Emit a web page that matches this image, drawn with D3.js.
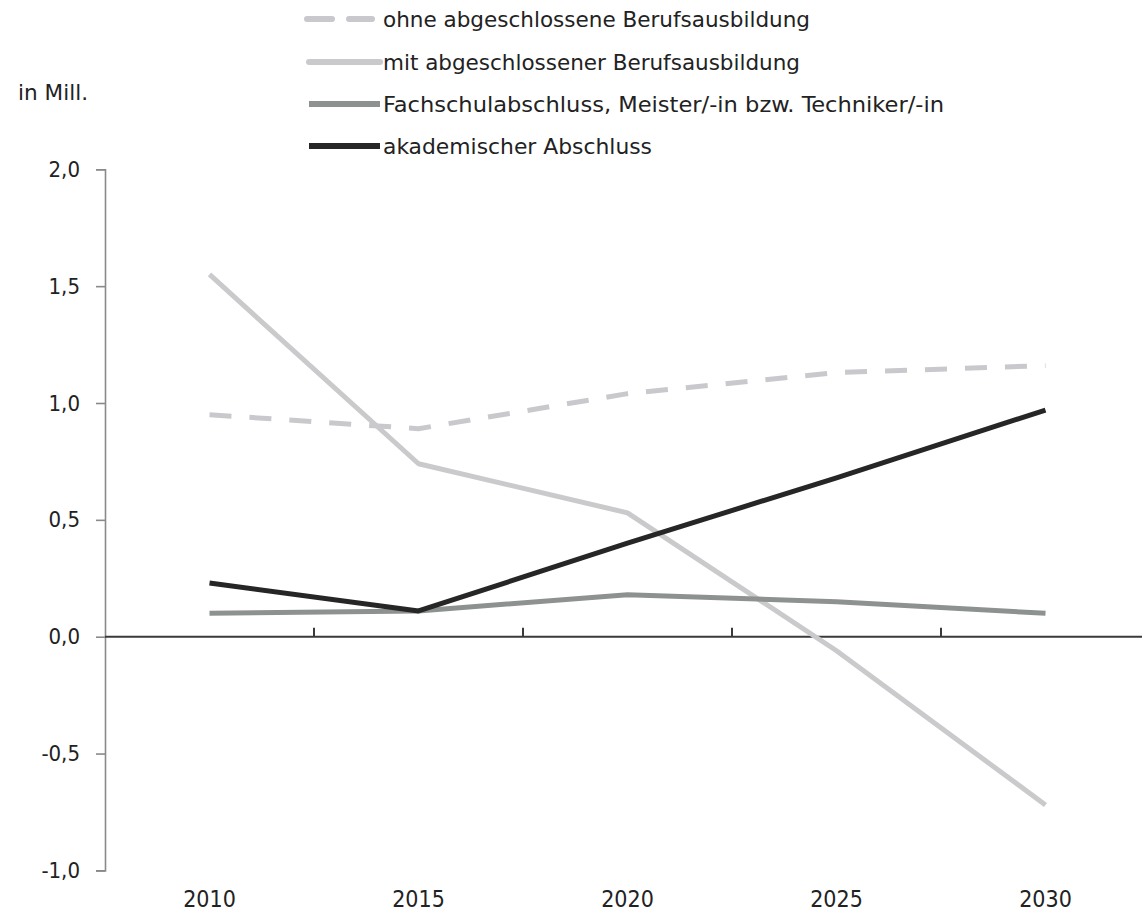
<!DOCTYPE html>
<html><head><meta charset="utf-8">
<script src="https://cdn.jsdelivr.net/npm/d3@7"></script>
<style>
body{margin:0;background:#fff;}
text{font-family:"DejaVu Sans Condensed","DejaVu Sans",sans-serif;font-stretch:condensed;}
</style></head>
<body>
<svg id="c" width="1142" height="916"></svg>
<script>
const years = ["2010","2015","2020","2025","2030"];
const ohne = [0.95, 0.89, 1.04, 1.13, 1.16];
const mit = [1.55, 0.74, 0.53, -0.06, -0.72];
const fach = [0.10, 0.11, 0.18, 0.15, 0.10];
const akad = [0.23, 0.11, 0.40, 0.68, 0.97];
const yTicks = [-1.0, -0.5, 0.0, 0.5, 1.0, 1.5, 2.0];
const seriesNames = ["ohne abgeschlossene Berufsausbildung","mit abgeschlossener Berufsausbildung","Fachschulabschluss, Meister/-in bzw. Techniker/-in","akademischer Abschluss"];

const styles = [
  {color:"#c9c9cd", width:5, dash:"22,18"},
  {color:"#cacacd", width:5, dash:null},
  {color:"#8d9291", width:5, dash:null},
  {color:"#262626", width:5, dash:null}
];
const legendWidths = [427, 417, 561, 269];
const series = [ohne, mit, fach, akad];

const svg = d3.select("#c");
const x = d3.scaleBand().domain(years).range([105, 1150]);
const y = d3.scaleLinear().domain([-1, 2]).range([870.4, 169.3]);

// y axis
const yAxis = d3.axisLeft(y).tickValues(yTicks).tickSize(9).tickPadding(16)
  .tickFormat(d => d3.format(".1f")(d).replace(".", ",").replace("\u2212","-"));
const gy = svg.append("g").attr("transform","translate(105,0)").call(yAxis);
gy.select(".domain").attr("stroke","#8a8a8a").attr("stroke-width",1.6);
gy.selectAll(".tick line").attr("stroke","#8a8a8a").attr("stroke-width",1.6);
gy.selectAll(".tick text").attr("fill","#222").style("font-size","22px")
  .style("font-family","'DejaVu Sans Condensed','DejaVu Sans',sans-serif");

// zero line
svg.append("line").attr("x1",105).attr("x2",1142).attr("y1",y(0)).attr("y2",y(0))
  .attr("stroke","#3a3a3a").attr("stroke-width",2);
// ticks at band boundaries on zero line
const bounds = years.map(d => x(d)).concat([x(years[years.length-1]) + x.bandwidth()]).slice(1);
svg.selectAll(".xt").data(bounds).enter().append("line")
  .attr("x1",d=>d).attr("x2",d=>d).attr("y1",y(0)).attr("y2",y(0)-9)
  .attr("stroke","#3a3a3a").attr("stroke-width",2);

// x labels
const xAxis = d3.axisBottom(x).tickSize(0).tickPadding(0);
const gx = svg.append("g").attr("transform","translate(0,899)").call(xAxis);
gx.select(".domain").remove();
gx.selectAll(".tick text").attr("fill","#222").style("font-size","23px").attr("dy","0.35em")
  .style("font-family","'DejaVu Sans Condensed','DejaVu Sans',sans-serif");

// lines
const line = d3.line().x((d,i)=>x(years[i]) + x.bandwidth()/2).y(d=>y(d));
series.forEach((s,k)=>{
  const p = svg.append("path").datum(s).attr("d",line).attr("fill","none")
    .attr("stroke",styles[k].color).attr("stroke-width",styles[k].width)
    .attr("stroke-linejoin","round").attr("stroke-linecap","butt");
  if(styles[k].dash) p.attr("stroke-dasharray",styles[k].dash);
});

// legend
const legY = [19, 62, 104, 146];
seriesNames.forEach((n,k)=>{
  const g = svg.append("g");
  if(styles[k].dash){
    g.append("line").attr("x1",307).attr("x2",332).attr("y1",legY[k]).attr("y2",legY[k])
      .attr("stroke",styles[k].color).attr("stroke-width",6).attr("stroke-linecap","round");
    g.append("line").attr("x1",349).attr("x2",372).attr("y1",legY[k]).attr("y2",legY[k])
      .attr("stroke",styles[k].color).attr("stroke-width",6).attr("stroke-linecap","round");
  } else {
    g.append("line").attr("x1",309).attr("x2",380).attr("y1",legY[k]).attr("y2",legY[k])
      .attr("stroke",styles[k].color).attr("stroke-width",6).attr("stroke-linecap",k==1?"round":"butt");
  }
  g.append("text").attr("x",383).attr("y",legY[k]).attr("dy","0.35em")
    .attr("fill","#222").style("font-size","22px")
    .attr("textLength",legendWidths[k]).attr("lengthAdjust","spacingAndGlyphs").text(n);
});

svg.append("text").attr("x",18).attr("y",93).attr("dy","0.35em").attr("fill","#222")
  .style("font-size","21px").attr("textLength",70).attr("lengthAdjust","spacingAndGlyphs").text("in Mill.");
</script>
</body></html>
